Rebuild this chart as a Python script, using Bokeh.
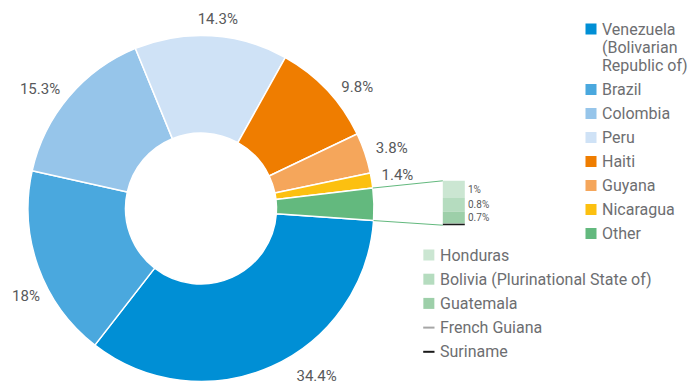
import math
from bokeh.plotting import figure
from bokeh.models import Range1d
from bokeh.embed import file_html
from bokeh.resources import INLINE
from bokeh.core.properties import value

# ---------------- data ----------------
countries = ["Venezuela\n(Bolivarian\nRepublic of)", "Brazil", "Colombia", "Peru",
             "Haiti", "Guyana", "Nicaragua", "Other"]
shares = [34.4, 18.0, 15.3, 14.3, 9.8, 3.8, 1.4, 3.0]
share_labels = ["34.4%", "18%", "15.3%", "14.3%", "9.8%", "3.8%", "1.4%", ""]
colors = ["#008fd5", "#4aa8de", "#96c5ea", "#cfe2f6", "#ef7d00", "#f5a65b", "#fcc010", "#63b97e"]

other_names = ["Honduras", "Bolivia (Plurinational State of)", "Guatemala", "French Guiana", "Suriname"]
other_shares = [1.0, 0.8, 0.7, 0.02, 0.08]
other_labels = ["1%", "0.8%", "0.7%", "", ""]
other_colors = ["#cbe6d2", "#b5dcbf", "#9dcfa9", "#a6a6a6", "#1a1a1a"]
other_marker = ["square", "square", "square", "line", "line"]

# ---------------- layout ----------------
W, H = 692, 385
FONT = "Roboto"
TXT = "#58595b"


def px(X):
    return X


def py(Y):
    return H - Y


CX, CY = px(200.5), py(208)
R_OUT, R_IN = 173, 75.5
START_DEG = -4.0
LABEL_R = 195
label_nudge = [(36, -11), (8.5, 22), (-12, 6.6), (5, 5), (14, 11.6), (6, 1.5), (4, -1.5), (0, 0)]

p = figure(width=W, height=H, x_range=Range1d(0, W), y_range=Range1d(0, H),
           output_backend="svg", toolbar_location=None, min_border=0,
           x_axis_type=None, y_axis_type=None)
p.grid.visible = False
p.outline_line_color = None
p.background_fill_color = "white"
p.border_fill_color = "white"

total = sum(shares)
cum = 0.0
starts, ends, mids = [], [], []
for s in shares:
    a0 = START_DEG - cum / total * 360.0
    cum += s
    a1 = START_DEG - cum / total * 360.0
    starts.append(math.radians(a0))
    ends.append(math.radians(a1))
    mids.append(math.radians((a0 + a1) / 2))

p.annular_wedge(x=CX, y=CY, inner_radius=R_IN, outer_radius=R_OUT,
                start_angle=starts, end_angle=ends, direction="clock",
                fill_color=colors, line_color="white", line_width=1.5)

# slice labels
lx, ly, lt = [], [], []
for i, lab in enumerate(share_labels):
    if not lab:
        continue
    dx, dy = label_nudge[i]
    lx.append(CX + LABEL_R * math.cos(mids[i]) + dx)
    ly.append(CY + LABEL_R * math.sin(mids[i]) - dy)
    lt.append(lab)
p.text(x=lx, y=ly, text=lt, text_align="center", text_baseline="middle",
       text_font=value(FONT), text_font_size="15px", text_color=TXT)

# stacked breakdown bar for "Other"
BAR_L, BAR_R = px(442.3), px(464.3)
BAR_B = py(224.7)
BAR_H = 44.4
scale = BAR_H / sum(other_shares)
bottoms, tops = [], []
y = BAR_B
for s in reversed(other_shares):
    bottoms.insert(0, y)
    y += s * scale
    tops.insert(0, y)
p.quad(left=BAR_L, right=BAR_R, bottom=bottoms, top=tops, fill_color=other_colors, line_color=None)

sx, sy, st = [], [], []
for i, lab in enumerate(other_labels):
    if lab:
        sx.append(px(467.5))
        sy.append((bottoms[i] + tops[i]) / 2)
        st.append(lab)
p.text(x=sx, y=sy, text=st, text_align="left", text_baseline="middle",
       text_font=value(FONT), text_font_size="10px", text_color=TXT)

# connector lines from the "Other" slice to the bar
other_i = len(shares) - 1
a_top, a_bot = starts[other_i], ends[other_i]
p.segment(x0=[CX + R_OUT * math.cos(a_top), CX + R_OUT * math.cos(a_bot)],
          y0=[CY + R_OUT * math.sin(a_top), CY + R_OUT * math.sin(a_bot)],
          x1=[BAR_L, BAR_L], y1=[tops[0], BAR_B],
          line_color=colors[other_i], line_width=1)

# main legend
LEG_SQ_X = px(590.5)
LEG_TX = px(601.5)
y_screen = 28.5
mx, my, tx, ty, tt = [], [], [], [], []
for name in countries:
    lines = name.split("\n")
    mx.append(LEG_SQ_X)
    my.append(py(y_screen))
    for k, ln in enumerate(lines):
        tx.append(LEG_TX)
        ty.append(py(y_screen + k * 18.3))
        tt.append(ln)
    y_screen += (len(lines) - 1) * 18.3 + 24
p.rect(x=mx, y=my, width=11, height=11, fill_color=colors, line_color=None)
p.text(x=tx, y=ty, text=tt, text_align="left", text_baseline="middle",
       text_font=value(FONT), text_font_size="16px", text_color="#6d6e71")

# breakdown legend
L2_X0, L2_X1 = px(422.7), px(434)
L2_TX = px(439.5)
y_screen = 254.5
qx, qy, qc, lx0, lx1, ly2, lc, t2x, t2y = [], [], [], [], [], [], [], [], []
for i, name in enumerate(other_names):
    yy = py(y_screen)
    if other_marker[i] == "square":
        qx.append((L2_X0 + L2_X1) / 2)
        qy.append(yy)
        qc.append(other_colors[i])
    else:
        lx0.append(L2_X0)
        lx1.append(L2_X1)
        ly2.append(yy)
        lc.append(other_colors[i])
    t2x.append(L2_TX)
    t2y.append(yy)
    y_screen += 24.2
p.rect(x=qx, y=qy, width=11, height=11, fill_color=qc, line_color=None)
p.segment(x0=lx0, y0=ly2, x1=lx1, y1=ly2, line_color=lc, line_width=2)
p.text(x=t2x, y=t2y, text=other_names, text_align="left", text_baseline="middle",
       text_font=value(FONT), text_font_size="16px", text_color="#6d6e71")

open("out.html", "w").write(file_html(p, INLINE))
